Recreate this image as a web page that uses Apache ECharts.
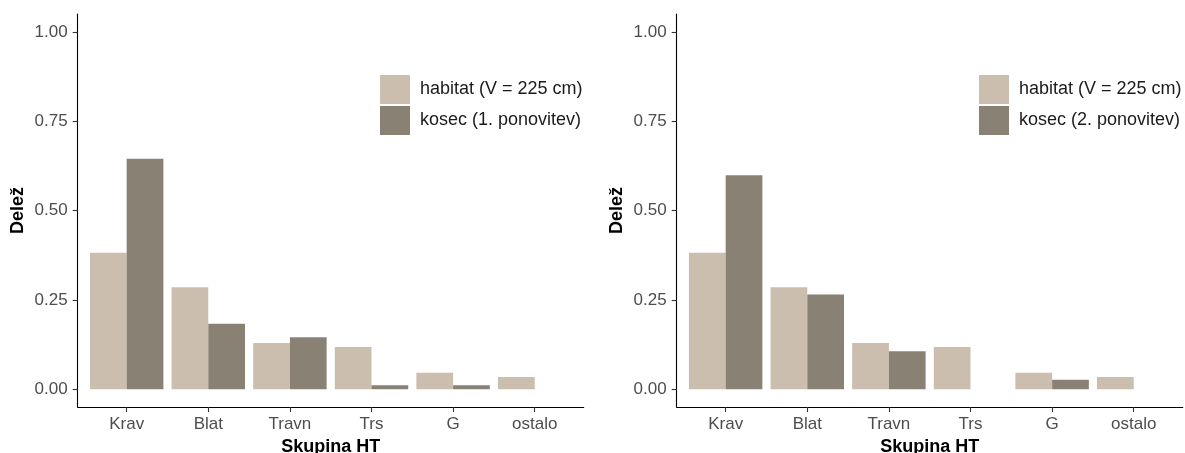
<!DOCTYPE html>
<html>
<head>
<meta charset="utf-8">
<script src="https://cdn.jsdelivr.net/npm/echarts@6/dist/echarts.min.js"></script>
<style>
  html, body { margin: 0; padding: 0; background: #ffffff; }
  #chart { width: 1185px; height: 453px; }
</style>
</head>
<body>
<div id="chart"></div>
<script>
// Habitat-type groups (x axis)
const categories = ['Krav', 'Blat', 'Travn', 'Trs', 'G', 'ostalo'];
// Share of each group in the habitat
const habitat = [0.382, 0.285, 0.129, 0.118, 0.046, 0.034];
// Share of each group used by the corncrake, 1st and 2nd repetition
const kosec1 = [0.645, 0.183, 0.145, 0.011, 0.011, 0];
const kosec2 = [0.599, 0.265, 0.106, 0, 0.026, 0];
// Y axis tick values
const yTicks = [0, 0.25, 0.5, 0.75, 1];

const seriesNames = ['habitat (V = 225 cm)', 'kosec (1. ponovitev)', 'kosec (2. ponovitev)'];
const colHabitat = '#cbbeae';
const colKosec = '#8a8175';
const font = 'Liberation Sans, Arial, sans-serif';
const xTicks = categories.map((c, i) => i + 1);

function toPairs(arr) { return arr.map((v, i) => [i + 1, v]); }

function xAxisFor(gi) {
  return {
    type: 'value', gridIndex: gi, min: 0.4, max: 6.6,
    name: 'Skupina HT', nameLocation: 'middle', nameGap: 29,
    nameTextStyle: { fontFamily: font, fontWeight: 'bold', fontSize: 18, color: '#000' },
    axisLine: { onZero: false, lineStyle: { color: '#000', width: 1.1 } },
    axisTick: { show: true, customValues: xTicks, length: 5, lineStyle: { color: '#333', width: 1.1 } },
    axisLabel: { customValues: xTicks, margin: 9, fontFamily: font, fontSize: 17, color: '#4d4d4d',
      formatter: v => categories[Math.round(v) - 1] || '' },
    splitLine: { show: false }
  };
}
function yAxisFor(gi) {
  return {
    type: 'value', gridIndex: gi, min: -0.05, max: 1.05,
    name: 'Delež', nameLocation: 'middle', nameGap: 51,
    nameTextStyle: { fontFamily: font, fontWeight: 'bold', fontSize: 18, color: '#000' },
    axisLine: { show: true, lineStyle: { color: '#000', width: 1.1 } },
    axisTick: { show: true, customValues: yTicks, length: 5, lineStyle: { color: '#333', width: 1.1 } },
    axisLabel: { customValues: yTicks, margin: 10, fontFamily: font, fontSize: 17, color: '#4d4d4d',
      formatter: v => v.toFixed(2) },
    splitLine: { show: false }
  };
}
function barSeries(name, data, color, gi) {
  return {
    type: 'bar', name: name, data: toPairs(data), xAxisIndex: gi, yAxisIndex: gi,
    barGap: '0%', barCategoryGap: '10%',
    itemStyle: { color: color }, emphasis: { disabled: true }
  };
}
function legendFor(left, names) {
  return {
    orient: 'vertical', left: left, top: 70, itemWidth: 30, itemHeight: 29, itemGap: 2,
    icon: 'rect', data: names, selectedMode: false,
    textStyle: { fontFamily: font, fontSize: 18, color: '#1a1a1a', padding: [0, 0, 0, 5] }
  };
}

const chart = echarts.init(document.getElementById('chart'), null, { renderer: 'canvas' });
chart.setOption({
  animation: false,
  backgroundColor: '#ffffff',
  grid: [
    { left: 77.7, top: 14, width: 506, bottom: 46, outerBoundsMode: 'none' },
    { left: 676.7, top: 14, width: 506, bottom: 46, outerBoundsMode: 'none' }
  ],
  xAxis: [xAxisFor(0), xAxisFor(1)],
  yAxis: [yAxisFor(0), yAxisFor(1)],
  legend: [
    legendFor(375, [seriesNames[0], seriesNames[1]]),
    legendFor(974, [seriesNames[0], seriesNames[2]])
  ],
  series: [
    barSeries(seriesNames[0], habitat, colHabitat, 0),
    barSeries(seriesNames[1], kosec1, colKosec, 0),
    barSeries(seriesNames[0], habitat, colHabitat, 1),
    barSeries(seriesNames[2], kosec2, colKosec, 1)
  ]
});
</script>
</body>
</html>
